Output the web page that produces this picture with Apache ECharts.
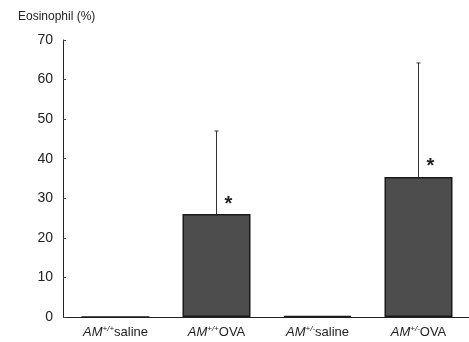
<!DOCTYPE html>
<html>
  <head>
    <title></title>
    <meta charset="UTF-8" />
    <script src="https://cdn.jsdelivr.net/npm/echarts@6/dist/echarts.min.js"></script>
    <style>
      body { margin: 0; background: #fff; }
    </style>
  </head>
  <body>
    <div id="main"></div>
    <script>
      const width = 469;
      const height = 342;
      const main = document.getElementById('main');
      main.style.width = `${width}px`;
      main.style.height = `${height}px`;

      // data
      const categories = ['+/+|saline', '+/+|OVA', '+/-|saline', '+/-|OVA'];
      const means = [0, 26, 0.3, 35.4];
      const sdUp = [0, 21, 0, 28.8];
      const significant = [false, true, false, true];
      const yTicks = [0, 10, 20, 30, 40, 50, 60, 70];

      const font = 'Arial, "Liberation Sans", sans-serif';

      const myChart = echarts.init(main);
      const option = {
        animation: false,
        backgroundColor: '#fff',
        title: {
          text: 'Eosinophil (%)',
          left: 13,
          top: 6,
          textStyle: { fontFamily: font, fontSize: 12, fontWeight: 'normal', color: '#222' },
        },
        grid: { left: 65, right: -6, top: 40, bottom: 25 },
        xAxis: {
          type: 'category',
          data: categories,
          axisLine: { lineStyle: { color: '#222', width: 1 } },
          axisTick: { show: false },
          axisLabel: {
            interval: 0,
            margin: 8,
            formatter: (v) => {
              const [sup, txt] = v.split('|');
              return '{i|AM}{s|' + sup + '}{n|' + txt + '}';
            },
            rich: {
              i: { fontFamily: font, fontSize: 13, fontStyle: 'italic', color: '#222' },
              s: { fontFamily: font, fontSize: 8, fontStyle: 'italic', color: '#222', verticalAlign: 'top', padding: [0, 0, 7, 0] },
              n: { fontFamily: font, fontSize: 13, color: '#222' },
            },
          },
        },
        yAxis: {
          type: 'value',
          min: yTicks[0],
          max: yTicks[yTicks.length - 1],
          interval: 10,
          offset: 2,
          splitLine: { show: false },
          axisLine: { show: true, lineStyle: { color: '#222', width: 1 } },
          axisTick: { show: true, inside: true, length: 3, lineStyle: { color: '#444' } },
          axisLabel: { margin: 10, fontFamily: font, fontSize: 14, color: '#222' },
        },
        series: [
          {
            type: 'bar',
            data: means,
            barWidth: 68,
            itemStyle: { color: '#4d4d4d', borderColor: '#1a1a1a', borderWidth: 1.5 },
          },
          {
            type: 'custom',
            data: means.map((m, i) => [i, m, m + sdUp[i], significant[i] ? 1 : 0]),
            z: 5,
            renderItem: (params, api) => {
              if (api.value(2) <= api.value(1)) return null;
              const base = api.coord([api.value(0), api.value(1)]);
              const top = api.coord([api.value(0), api.value(2)]);
              const children = [
                { type: 'line', shape: { x1: base[0], y1: base[1], x2: top[0], y2: top[1] }, style: { stroke: '#333', lineWidth: 1 } },
                { type: 'line', shape: { x1: top[0] - 2, y1: top[1], x2: top[0] + 2, y2: top[1] }, style: { stroke: '#333', lineWidth: 1 } },
              ];
              if (api.value(3)) {
                children.push({
                  type: 'text',
                  style: { text: '*', x: base[0] + 8, y: base[1] - 20, fontSize: 20, fontWeight: 'bold', fontFamily: font, fill: '#222' },
                });
              }
              return { type: 'group', children };
            },
          },
        ],
      };
      myChart.setOption(option);
    </script>
  </body>
</html>
